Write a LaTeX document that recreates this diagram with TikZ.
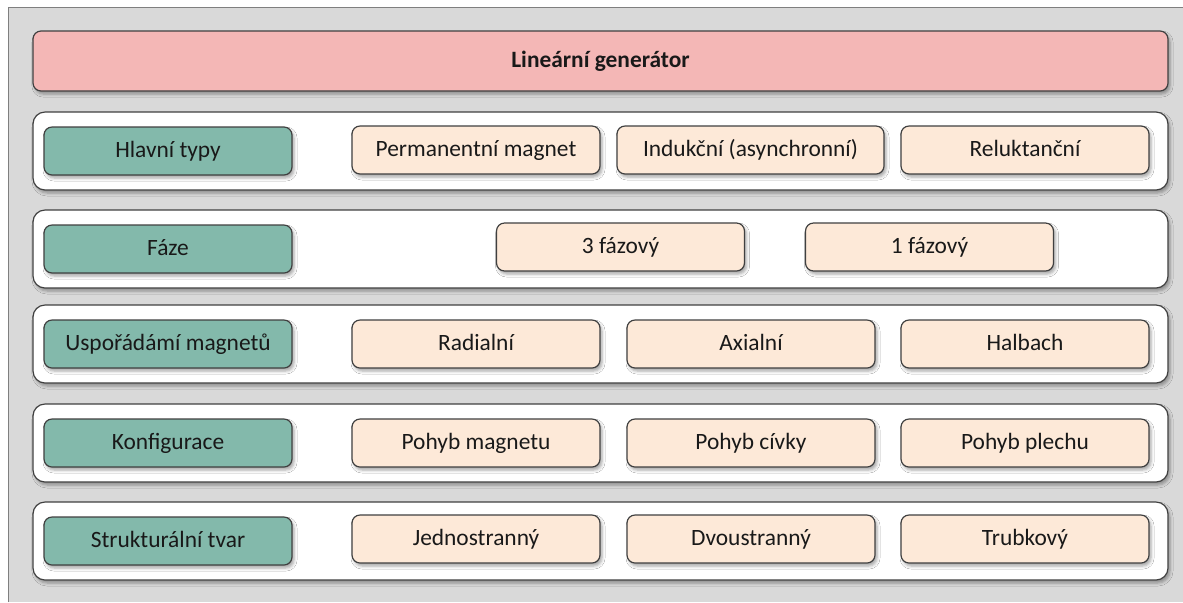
\documentclass[tikz,border=0pt]{standalone}
\usepackage{fontspec}
\setmainfont{Carlito}
\usetikzlibrary{shadows.blur}
\definecolor{bggray}{HTML}{D9D9D9}
\definecolor{frameline}{HTML}{7F7F7F}
\definecolor{boxline}{HTML}{404040}
\definecolor{titlepink}{HTML}{F4B7B6}
\definecolor{catgreen}{HTML}{83B9AB}
\definecolor{itempeach}{HTML}{FDE9D8}
\begin{document}
\begin{tikzpicture}[x=0.5pt,y=-0.5pt,
    every node/.style={font=\fontsize{11.7}{14}\selectfont, text=black!90},
    box/.style={draw=boxline, line width=0.6pt, rounded corners=4pt, inner sep=0pt,
        text height=8.6pt, text depth=2.6pt,
        blur shadow={shadow xshift=1pt, shadow yshift=-1.5pt, shadow blur radius=1.5pt, shadow opacity=35}},
    titlebox/.style={box, fill=titlepink, minimum width=567.5pt, minimum height=30pt, font=\fontsize{11.7}{14}\selectfont\bfseries},
    rowbox/.style={box, fill=white, rounded corners=6pt, minimum width=567.5pt, minimum height=39pt},
    catbox/.style={box, fill=catgreen, minimum width=124pt, minimum height=24pt},
    itembox/.style={box, fill=itempeach, minimum width=124pt, minimum height=24pt}]
\useasboundingbox (0,0) rectangle (1183,602);
\fill[white] (0,0) rectangle (1183,602);
\fill[bggray] (8.5,7.5) rectangle (1183,602);
\draw[frameline, line width=0.6pt] (8.5,602) -- (8.5,7.5) -- (1183,7.5);

\node[titlebox] (title) at (600.5,61) {Lineární generátor};

% rows with the category on the left
\foreach \y/\n/\ctext in {151/1/Hlavní typy, 249/2/Fáze, 344/3/Uspořádámí magnetů,
    443/4/Konfigurace, 541/5/Strukturální tvar}
{
    \node[rowbox] (row\n) at (600.5,\y) {};
    \node[catbox] (cat\n) at (168,\y) {\ctext};
}

% items
\node[itembox] (it11) at (476,150) {Permanentní magnet};
\node[itembox, minimum width=133.5pt] (it12) at (750.5,150) {Indukční (asynchronní)};
\node[itembox] (it13) at (1025,150) {Reluktanční};
\node[itembox] (it21) at (620.5,247) {3 fázový};
\node[itembox] (it22) at (929.5,247) {1 fázový};
\foreach \n/\y/\a/\b/\c in {3/344/Radialní/Axialní/Halbach,
    4/443/Pohyb magnetu/Pohyb cívky/Pohyb plechu,
    5/539/Jednostranný/Dvoustranný/Trubkový}
{
    \node[itembox] (it\n1) at (476,\y) {\a};
    \node[itembox] (it\n2) at (751,\y) {\b};
    \node[itembox] (it\n3) at (1025,\y) {\c};
}

\end{tikzpicture}
\end{document}
